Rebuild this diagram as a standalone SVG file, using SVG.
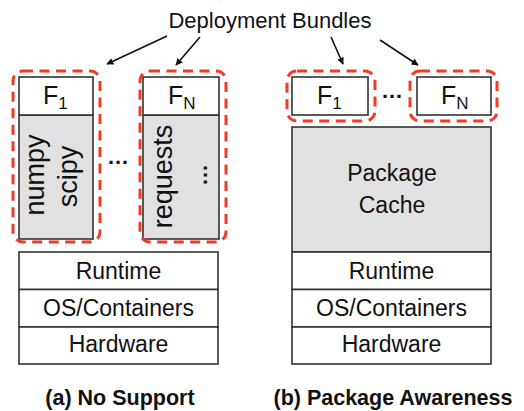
<svg xmlns="http://www.w3.org/2000/svg" width="524" height="411" viewBox="0 0 524 411">
<style>
  text { font-family: "Liberation Sans", Arial, sans-serif; fill: #111; }
  .box { fill: #fff; stroke: #333; stroke-width: 1.6; }
  .gray { fill: #e1e1e1; stroke: #333; stroke-width: 1.6; }
  .dash { fill: none; stroke: #f43a22; stroke-width: 3; stroke-dasharray: 10 6.5; }
  .title { font-size: 22px; text-anchor: middle; }
  .lbl { font-size: 23px; text-anchor: middle; }
  .f { font-size: 25px; }
  .sub { font-size: 17px; }
  .rot { font-size: 27px; text-anchor: middle; }
  .cap { font-size: 21.5px; font-weight: bold; text-anchor: middle; }
  .arr { stroke: #111; stroke-width: 1.6; fill: none; marker-end: url(#ah); }
  .dots { font-size: 22px; font-weight: bold; text-anchor: middle; }
</style>
<defs>
  <marker id="ah" viewBox="0 0 10 10" refX="9" refY="5" markerWidth="7" markerHeight="7" markerUnits="userSpaceOnUse" orient="auto">
    <path d="M0,0 L10,5 L0,10 z" fill="#111"/>
  </marker>
</defs>

<text id="title" class="title" x="270" y="28">Deployment Bundles</text>

<g id="connectors">
  <line class="arr" x1="167" y1="36" x2="107" y2="64"/>
  <line class="arr" x1="200" y1="37" x2="176" y2="65"/>
  <line class="arr" x1="331" y1="37" x2="343" y2="64"/>
  <line class="arr" x1="380" y1="40" x2="418" y2="65"/>
</g>

<!-- Panel (a) -->
<g id="a-f1">
  <rect class="gray" x="19" y="115" width="74" height="124"/>
  <rect class="box" x="19" y="77" width="74" height="38"/>
  <text x="43" y="104" class="f">F<tspan class="sub" dy="5">1</tspan></text>
  <text class="rot" transform="translate(44,175) rotate(-90)">numpy</text>
  <text class="rot" transform="translate(77,176.5) rotate(-90)">scipy</text>
  <rect class="dash" x="13" y="71" width="87" height="171" rx="10"/>
</g>
<text id="a-dots" class="dots" x="118" y="164">…</text>
<g id="a-fn">
  <rect class="gray" x="143" y="115" width="76" height="124"/>
  <rect class="box" x="143" y="77" width="76" height="38"/>
  <text x="168" y="104" class="f">F<tspan class="sub" dy="5">N</tspan></text>
  <text class="rot" transform="translate(172,176.5) rotate(-90)">requests</text>
  <text class="dots" transform="translate(207,175) rotate(-90)">…</text>
  <rect class="dash" x="140" y="71" width="86" height="171" rx="10"/>
</g>
<g id="a-runtime">
  <rect class="box" x="19" y="252" width="199" height="37.5"/>
  <text class="lbl" x="118.5" y="279">Runtime</text>
</g>
<g id="a-os">
  <rect class="box" x="19" y="289.5" width="199" height="37.5"/>
  <text class="lbl" x="118.5" y="316">OS/Containers</text>
</g>
<g id="a-hw">
  <rect class="box" x="19" y="327" width="199" height="37"/>
  <text class="lbl" x="118.5" y="352">Hardware</text>
</g>
<text id="cap-a" class="cap" x="120" y="405">(a) No Support</text>

<!-- Panel (b) -->
<g id="b-f1">
  <rect class="box" x="292" y="77" width="76" height="38"/>
  <text x="317" y="104" class="f">F<tspan class="sub" dy="5">1</tspan></text>
  <rect class="dash" x="287" y="71" width="88" height="50" rx="10"/>
</g>
<text id="b-dots" class="dots" x="392" y="98">…</text>
<g id="b-fn">
  <rect class="box" x="417" y="77" width="74" height="38"/>
  <text x="441" y="104" class="f">F<tspan class="sub" dy="5">N</tspan></text>
  <rect class="dash" x="410" y="71" width="87" height="50" rx="10"/>
</g>
<g id="b-cache">
  <rect class="gray" x="292" y="127" width="199" height="125"/>
  <text class="lbl" x="392" y="181">Package</text>
  <text class="lbl" x="392" y="213">Cache</text>
</g>
<g id="b-runtime">
  <rect class="box" x="292" y="252" width="199" height="37.5"/>
  <text class="lbl" x="391.5" y="279">Runtime</text>
</g>
<g id="b-os">
  <rect class="box" x="292" y="289.5" width="199" height="37.5"/>
  <text class="lbl" x="391.5" y="316">OS/Containers</text>
</g>
<g id="b-hw">
  <rect class="box" x="292" y="327" width="199" height="37"/>
  <text class="lbl" x="391.5" y="352">Hardware</text>
</g>
<text id="cap-b" class="cap" x="393" y="405">(b) Package Awareness</text>
</svg>
